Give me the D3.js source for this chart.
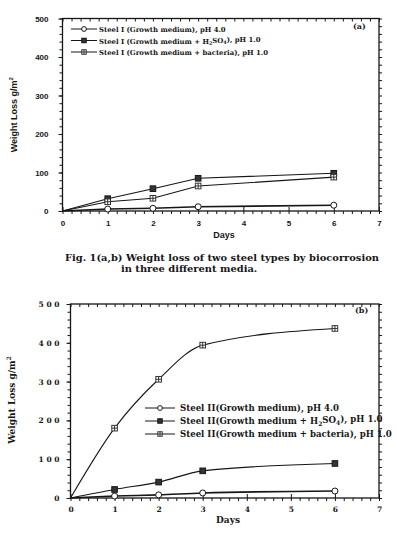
<!DOCTYPE html>
<html><head><meta charset="utf-8">
<script src="https://cdn.jsdelivr.net/npm/d3@7"></script>
<style>body{margin:0;background:#fff}svg{display:block}</style>
</head><body>
<svg id="c" width="397" height="536"></svg>
<script>
// ---- data ----
const days = [0, 1, 2, 3, 6];
const aGrowth   = [0, 5, 7, 11, 15];
const aH2SO4    = [0, 32, 58, 85, 98];
const aBacteria = [0, 24, 33, 65, 88];
const bGrowth   = [0, 5, 8, 13, 18];
const bH2SO4    = [0, 22, 41, 70, 89];
const bBacteria = [0, 180, 306, 394, 437];
const xTicks = [0, 1, 2, 3, 4, 5, 6, 7];
const yTicks = [0, 100, 200, 300, 400, 500];
const legendA = ["Steel I (Growth medium), pH 4.0", "Steel I (Growth medium + H|2|SO|4|), pH 1.0", "Steel I (Growth medium + bacteria), pH 1.0"];
const legendB = ["Steel II(Growth medium), pH 4.0", "Steel II(Growth medium + H|2|SO|4|), pH 1.0", "Steel II(Growth medium + bacteria), pH 1.0"];
const caption = ["Fig. 1(a,b) Weight loss of two steel types by biocorrosion", "in three different media."];

const svg = d3.select("#c");
const ink = "#161616";

function marker(g, type, x, y, s) {
  if (type === 0) {
    g.append("circle").attr("cx", x).attr("cy", y).attr("r", 3*s).attr("fill", "#fff").attr("stroke", ink).attr("stroke-width", 1);
  } else if (type === 1) {
    g.append("rect").attr("x", x-2.8*s).attr("y", y-2.8*s).attr("width", 5.6*s).attr("height", 5.6*s).attr("fill", "#333").attr("stroke", ink);
  } else {
    g.append("rect").attr("x", x-2.8*s).attr("y", y-2.8*s).attr("width", 5.6*s).attr("height", 5.6*s).attr("fill", "#fff").attr("stroke", "#333");
    g.append("line").attr("x1", x-2.8*s).attr("x2", x+2.8*s).attr("y1", y).attr("y2", y).attr("stroke", "#333");
    g.append("line").attr("x1", x).attr("x2", x).attr("y1", y-2.8*s).attr("y2", y+2.8*s).attr("stroke", "#333");
  }
}

function richText(sel, str) {
  const parts = str.split("|");
  parts.forEach((p, i) => {
    if (!p) return;
    const t = sel.append("tspan").text(p);
    if (i % 2 === 1) t.attr("font-size", "0.7em").attr("dy", "0.3em");
    else if (i > 0) t.attr("dy", "-0.3em");
  });
}

function panel(o) {
  const g = svg.append("g");
  const x = d3.scaleLinear().domain([0, 7]).range([o.L, o.R]);
  const y = d3.scaleLinear().domain([0, 500]).range([o.B, o.T]);
  g.append("rect").attr("x", o.L).attr("y", o.T).attr("width", o.R-o.L).attr("height", o.B-o.T)
    .attr("fill", "none").attr("stroke", ink).attr("stroke-width", 1.3);
  const xMinor = d3.range(0, 7.001, 0.2);
  const yMinor = d3.range(0, 500.1, 20);
  const xb = g.append("g").attr("transform", `translate(0,${o.B})`)
    .call(d3.axisBottom(x).tickValues(xMinor).tickSize(3).tickFormat(""));
  const xb2 = g.append("g").attr("transform", `translate(0,${o.B})`)
    .call(d3.axisBottom(x).tickValues(xTicks).tickSize(-4).tickPadding(9).tickFormat(d3.format("d")));
  const xt = g.append("g").attr("transform", `translate(0,${o.T})`)
    .call(d3.axisBottom(x).tickValues(xMinor).tickSize(3).tickFormat(""));
  const yl = g.append("g").attr("transform", `translate(${o.L},0)`)
    .call(d3.axisLeft(y).tickValues(yMinor).tickSize(3).tickFormat(""));
  const yl2 = g.append("g").attr("transform", `translate(${o.L},0)`)
    .call(d3.axisLeft(y).tickValues(yTicks).tickSize(4).tickPadding(o.yPad).tickFormat(o.yFmt));
  const yr = g.append("g").attr("transform", `translate(${o.R},0)`)
    .call(d3.axisRight(y).tickValues(yMinor).tickSize(3).tickFormat(""));
  [xb, xb2, xt, yl, yl2, yr].forEach(a => { a.select(".domain").remove(); a.selectAll("line").attr("stroke", ink); });
  [xb2, yl2].forEach(a => a.selectAll("text").attr("font-family", o.tickFont).attr("font-size", o.tickSize)
    .attr("font-weight", "bold").attr("fill", ink));
  const sets = [o.s[0], o.s[1], o.s[2]];
  const line = d3.line().x((d, i) => x(days[i])).y(d => y(d)).curve(o.curve);
  sets.forEach((s, k) => {
    g.append("path").datum(s).attr("d", line).attr("fill", "none").attr("stroke", ink).attr("stroke-width", k === 0 ? 1.6 : 1.1);
  });
  sets.forEach((s, k) => s.forEach((v, i) => { if (i > 0) marker(g, k, x(days[i]), y(v), 1); }));
  o.legend.forEach((lab, k) => {
    const ly = o.legY + k * o.legDy;
    g.append("line").attr("x1", o.legX).attr("x2", o.legX + o.legLen).attr("y1", ly).attr("y2", ly).attr("stroke", ink).attr("stroke-width", 1);
    marker(g, k, o.legX + o.legLen/2, ly, 0.8);
    const t = g.append("text").attr("x", o.legX + o.legTx).attr("y", ly + 3).attr("font-family", "DejaVu Serif")
      .attr("font-weight", "bold").attr("font-size", o.legSize).attr("fill", ink);
    richText(t, lab);
  });
  g.append("text").attr("x", o.tagX).attr("y", o.tagY).attr("font-family", "DejaVu Serif").attr("font-weight", "bold")
    .attr("font-size", 8).attr("fill", ink).text(o.tag);
  g.append("text").attr("transform", `translate(${o.ylx},${(o.T+o.B)/2 + o.yloff}) rotate(-90)`).attr("text-anchor", "middle")
    .attr("font-family", o.titleFont).attr("font-weight", "bold").attr("font-size", 9).attr("fill", ink)
    .call(t => { t.append("tspan").text("Weight Loss g/m"); t.append("tspan").text("2").attr("font-size", 6).attr("dy", -4); });
  g.append("text").attr("x", o.dX).attr("y", o.dY).attr("text-anchor", "middle")
    .attr("font-family", o.titleFont).attr("font-weight", "bold").attr("font-size", 9).attr("fill", ink).text("Days");
}

panel({L: 62.5, R: 379, T: 18.5, B: 211, s: [aGrowth, aH2SO4, aBacteria], curve: d3.curveLinear,
  yFmt: d3.format("d"), yPad: 10, tickFont: "Liberation Sans", tickSize: 8,
  legend: legendA, legX: 71, legLen: 26, legTx: 28, legY: 29, legDy: 11.5, legSize: 6.9, tag: "(a)", tagX: 353, tagY: 29,
  ylx: 17, yloff: 0, titleFont: "Liberation Sans", dX: 224, dY: 238});

panel({L: 70.5, R: 379, T: 304, B: 498, s: [bGrowth, bH2SO4, bBacteria], curve: d3.curveMonotoneX,
  yFmt: d => String(d).split("").join(" "), yPad: 7, tickFont: "DejaVu Serif", tickSize: 7.5,
  legend: legendB, legX: 145, legLen: 30, legTx: 35, legY: 408, legDy: 13, legSize: 8.6, tag: "(b)", tagX: 355, tagY: 313,
  ylx: 15, yloff: -1, titleFont: "DejaVu Serif", dX: 228, dY: 523});

svg.selectAll(".cap").data(caption).enter().append("text").attr("class", "cap")
  .attr("x", (d, i) => i === 0 ? 65 : 121).attr("y", (d, i) => 261 + i * 11)
  .attr("font-family", "DejaVu Serif").attr("font-weight", "bold").attr("font-size", 9.9).attr("fill", ink).text(d => d);
</script>
</body></html>
